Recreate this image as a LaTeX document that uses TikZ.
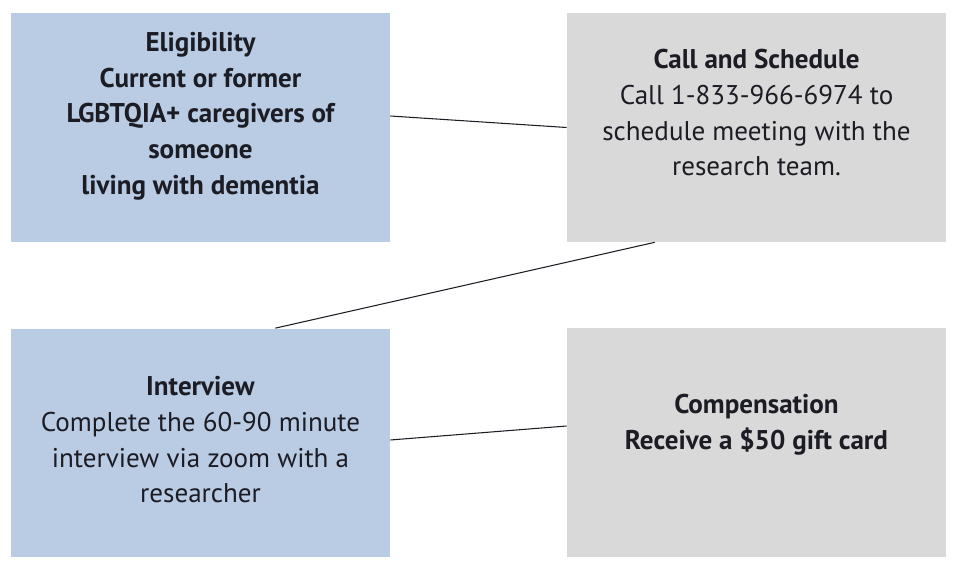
\documentclass[tikz,border=0pt]{standalone}
\usepackage{fontspec}
\setmainfont{PT Sans}
\usepackage{tikz}
\usetikzlibrary{positioning,calc}
\definecolor{boxblue}{RGB}{185,204,227}
\definecolor{boxgray}{RGB}{217,217,217}
\definecolor{inkdark}{RGB}{28,28,36}
\tikzset{
  stepblue/.style={fill=boxblue, minimum width=7.58cm, minimum height=4.58cm, inner sep=0pt},
  stepgray/.style={fill=boxgray, minimum width=7.58cm, minimum height=4.58cm, inner sep=0pt},
  steptext/.style={align=center, text=inkdark, font=\fontsize{15.4}{20.3}\selectfont},
  link/.style={draw=inkdark, line width=0.6pt}
}
\begin{document}
\begin{tikzpicture}[x=0.02cm, y=-0.02cm]
    \useasboundingbox (0,0) rectangle (957,587);

    % boxes
    \node[stepblue] (elig) at (200.5,127.5) {};
    \node[stepgray] (call) at (756.5,127.5) {};
    \node[stepblue] (interview) at (200.5,443) {};
    \node[stepgray] (comp) at (756.5,442.5) {};

    % texts
    \node[steptext, font=\fontsize{15.4}{20.3}\selectfont\bfseries] (eligtext) at (200.5,116)
        {Eligibility\\Current or former\\LGBTQIA+ caregivers of\\someone\\living with dementia};
    \node[steptext] (calltext) at (756.5,113)
        {\textbf{Call and Schedule}\\Call 1-833-966-6974 to\\schedule meeting with the\\research team.};
    \node[steptext] (interviewtext) at (200.5,440)
        {\textbf{Interview}\\Complete the 60-90 minute\\interview via zoom with a\\researcher};
    \node[steptext, font=\fontsize{15.4}{20.3}\selectfont\bfseries] (comptext) at (756.5,425)
        {Compensation\\Receive a \$50 gift card};

    % connectors
    \draw[link] (elig.east |- eligtext) -- (call.west);
    \draw[link] ($(call.south west)!0.232!(call.south east)$) -- ($(interview.north west)!0.697!(interview.north east)$);
    \draw[link] (interview.east |- interviewtext) -- ($(comp.west |- comptext)+(0,1)$);
\end{tikzpicture}
\end{document}
